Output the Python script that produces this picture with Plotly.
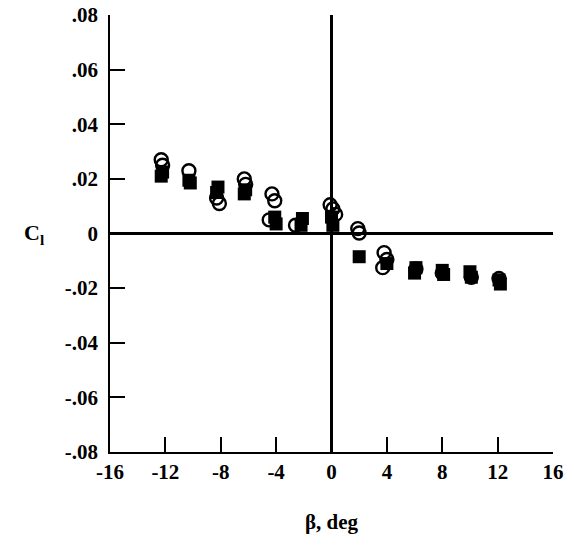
import plotly.graph_objects as go

# Open-circle data
beta_circ = [-12.3, -12.2, -10.3, -8.3, -8.1, -6.3, -6.2, -4.3, -4.1, -4.5, -2.6,
             -0.1, 0.1, 0.3, 1.9, 2.0, 3.8, 4.0, 3.7, 6.1, 8.0, 10.1, 12.1]
cl_circ = [0.027, 0.025, 0.023, 0.013, 0.011, 0.020, 0.018, 0.0145, 0.012, 0.005, 0.003,
           0.0105, 0.009, 0.007, 0.0018, 0.0002, -0.007, -0.0095, -0.0125, -0.013, -0.0145, -0.016, -0.0165]

# Filled-square data
beta_sq = [-12.2, -12.3, -10.3, -10.2, -8.2, -8.3, -6.2, -6.3, -4.1, -4.0, -2.1, -2.2,
           0.0, 0.1, 2.0, 4.0, 6.1, 6.0, 8.0, 8.1, 10.0, 10.1, 12.1, 12.2]
cl_sq = [0.0225, 0.021, 0.0195, 0.0185, 0.017, 0.015, 0.016, 0.0145, 0.006, 0.0035, 0.0055, 0.003,
         0.006, 0.003, -0.0085, -0.011, -0.0125, -0.0145, -0.0135, -0.015, -0.014, -0.016, -0.017, -0.0185]

x_ticks = [-16, -12, -8, -4, 0, 4, 8, 12, 16]
x_tick_text = ["-16", "-12", "-8", "-4", "0", "4", "8", "12", "16"]
y_ticks = [-0.08, -0.06, -0.04, -0.02, 0, 0.02, 0.04, 0.06, 0.08]
y_tick_text = ["-.08", "-.06", "-.04", "-.02", "0", ".02", ".04", ".06", ".08"]

font = "Liberation Serif, Times New Roman, serif"

fig = go.Figure()
fig.add_trace(go.Scatter(
    x=beta_sq, y=cl_sq, mode="markers",
    marker=dict(symbol="square", size=13, color="black"),
    showlegend=False, cliponaxis=False))
fig.add_trace(go.Scatter(
    x=beta_circ, y=cl_circ, mode="markers",
    marker=dict(symbol="circle-open", size=13, color="black", line=dict(width=2.4, color="black")),
    showlegend=False, cliponaxis=False))

tick_font = dict(family=font, size=21, color="black", weight="bold")

fig.update_layout(
    width=574, height=548,
    margin=dict(l=110, r=21, t=15, b=96),
    paper_bgcolor="white", plot_bgcolor="white",
    font=dict(family=font, size=20, color="black"),
    xaxis=dict(range=[-16, 16], tickvals=x_ticks, ticktext=x_tick_text, ticks="inside",
               ticklen=15, tickwidth=1.5, tickcolor="black", showline=True, linecolor="black",
               linewidth=1.5, showgrid=False, zeroline=True, zerolinecolor="black",
               zerolinewidth=3, tickfont=tick_font, automargin=False, ticklabelstandoff=0),
    yaxis=dict(range=[-0.08, 0.08], tickvals=y_ticks, ticktext=y_tick_text, ticks="inside",
               ticklen=15, tickwidth=1.5, tickcolor="black", showline=True, linecolor="black",
               linewidth=1.5, showgrid=False, zeroline=True, zerolinecolor="black",
               zerolinewidth=3, tickfont=tick_font, automargin=False, ticklabelstandoff=6),
    annotations=[
        dict(text="β, deg", x=0.5, xref="paper", y=-0.16, yref="paper", yanchor="middle",
             showarrow=False, font=dict(family=font, size=21, weight="bold")),
        dict(text="C<sub>l</sub>", x=0, y=0.0, xref="paper", yref="y", xshift=-88,
             showarrow=False, font=dict(family=font, size=22, weight="bold")),
    ],
)

fig.write_html("out.html", config={"displayModeBar": False})

# remove the default page margin so the figure sits at the window origin
with open("out.html", "r", encoding="utf-8") as f:
    html = f.read()
html = html.replace("<head>", "<head><style>html,body{margin:0;padding:0;overflow:hidden}</style>", 1)
with open("out.html", "w", encoding="utf-8") as f:
    f.write(html)
